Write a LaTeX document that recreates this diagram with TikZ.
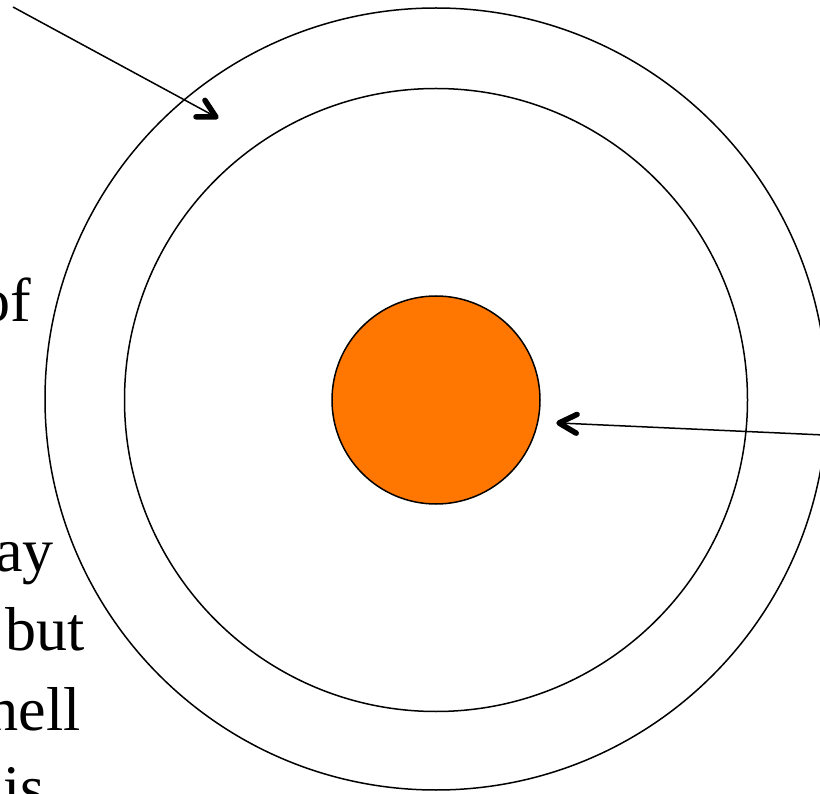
\documentclass[tikz,border=0pt]{standalone}
\usepackage{fontspec}
\setmainfont{Liberation Serif}
\usetikzlibrary{calc}
\definecolor{coreorange}{HTML}{FF7700}
\tikzset{
  ring/.style={circle, draw=black, line width=1.5pt, inner sep=0pt},
  pointer/.style={draw=black, line width=1.5pt},
  barb/.style={draw=black, line width=5.5pt, line cap=round, line join=round},
  frag/.style={anchor=base east, inner sep=0pt, font=\fontsize{62}{80}\selectfont}
}
\begin{document}
\begin{tikzpicture}[x=1pt,y=-1pt]
\useasboundingbox (0,0) rectangle (820,794);
\clip (0,0) rectangle (820,794);
\fill[white] (0,0) rectangle (820,794);
\node[ring, minimum size=782pt] (outer) at (436,399) {};
\node[ring, minimum size=623pt] (inner) at (436,400) {};
\node[ring, fill=coreorange, minimum size=208pt] (core) at (436,400) {};
\node[frag] (t1) at (31,322) {of};
\node[frag] (t2) at (54,571) {ay};
\node[frag] (t3) at (85,650) {but};
\node[frag] (t4) at (81,730) {hell};
\node[frag] (t5) at (45,808) {is};
\coordinate (a1s) at (13,7);
\coordinate (a1e) at (216,117);
\coordinate (a2s) at (824,435);
\coordinate (a2e) at (559,423);
\draw[pointer] (a1s) -- (a1e);
\draw[pointer] (a2s) -- (a2e);
\draw[barb] ($(a1e)!20pt!28:(a1s)$) -- (a1e) -- ($(a1e)!20pt!-28:(a1s)$);
\draw[barb] ($(a2e)!20pt!28:(a2s)$) -- (a2e) -- ($(a2e)!20pt!-28:(a2s)$);
\end{tikzpicture}
\end{document}
